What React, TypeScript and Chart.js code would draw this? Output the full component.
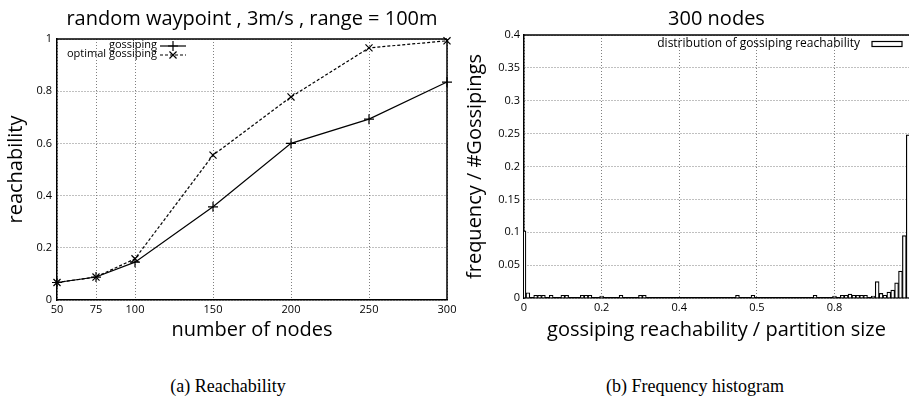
import React, { useEffect, useRef } from 'react';
import { Chart, registerables } from 'chart.js';
import { drawPoint } from 'chart.js/helpers';

Chart.register(...registerables);

// ---- data: reachability vs number of nodes ----
const nodeCounts = [50, 75, 100, 150, 200, 250, 300];
const gossipingReach = [0.067, 0.088, 0.145, 0.357, 0.6, 0.693, 0.835];
const optimalReach = [0.067, 0.088, 0.158, 0.555, 0.778, 0.966, 0.993];
const nodeTicks = [50, 75, 100, 150, 200, 250, 300];

// ---- data: histogram (300 nodes) ----
const binCenters = [0, 0.01, 0.03, 0.04, 0.05, 0.07, 0.1, 0.11, 0.15, 0.16, 0.17, 0.2, 0.25, 0.3, 0.31, 0.55, 0.59, 0.75, 0.8, 0.82, 0.83, 0.84, 0.85, 0.86, 0.87, 0.88, 0.9, 0.91, 0.92, 0.93, 0.94, 0.95, 0.96, 0.97, 0.98, 0.99];
const binFreq = [0.102, 0.008, 0.004, 0.004, 0.004, 0.004, 0.004, 0.004, 0.004, 0.004, 0.004, 0.003, 0.004, 0.004, 0.004, 0.004, 0.004, 0.004, 0.003, 0.004, 0.004, 0.006, 0.004, 0.004, 0.004, 0.004, 0.003, 0.025, 0.007, 0.004, 0.009, 0.012, 0.023, 0.041, 0.095, 0.248];
const histTickValues = [0, 0.2, 0.4, 0.6, 0.8];
const histTickLabels = ['0', '0.2', '0.4', '0.5', '0.8'];

const FONT = "'Open Sans', 'DejaVu Sans', sans-serif";
const fmt = (v: number) => String(Number(Number(v).toFixed(3)));

const framePlugin = {
  id: 'frame',
  afterDatasetsDraw(chart: any, _a: any, opts: any) {
    const { ctx, chartArea: a } = chart;
    ctx.save();
    ctx.strokeStyle = '#000';
    ctx.lineWidth = 1.5;
    ctx.beginPath();
    if (opts.top) { ctx.moveTo(a.left, a.top); ctx.lineTo(a.right, a.top); }
    if (opts.right) { ctx.moveTo(a.right, a.top); ctx.lineTo(a.right, a.bottom); }
    ctx.stroke();
    ctx.restore();
  },
};

const keyPlugin = {
  id: 'keyLegend',
  afterDraw(chart: any, _a: any, opts: any) {
    const ctx = chart.ctx;
    ctx.save();
    ctx.font = opts.font;
    ctx.fillStyle = '#000';
    ctx.strokeStyle = '#000';
    ctx.textAlign = 'right';
    ctx.textBaseline = 'middle';
    chart.data.datasets.forEach((ds: any, i: number) => {
      const y = opts.y + i * (opts.rowHeight || 0);
      ctx.fillText(ds.label, opts.textRight, y);
      const x0 = opts.textRight + opts.gap;
      const x1 = x0 + opts.sampleWidth;
      ctx.lineWidth = ds.borderWidth || 1;
      if (opts.kind === 'box') {
        ctx.strokeRect(x0, y - opts.boxHeight / 2, opts.sampleWidth, opts.boxHeight);
      } else {
        ctx.setLineDash(ds.borderDash || []);
        ctx.beginPath();
        ctx.moveTo(x0, y + 1);
        ctx.lineTo(x1, y + 1);
        ctx.stroke();
        ctx.setLineDash([]);
        drawPoint(ctx, { pointStyle: ds.pointStyle, radius: ds.pointRadius, borderWidth: ds.pointBorderWidth, rotation: 0 } as any, (x0 + x1) / 2, y + 1);
      }
    });
    ctx.restore();
  },
};

const tickFont = { family: FONT, size: 11 };
const titleFont = { family: FONT, size: 20, weight: 'normal' as const };
const gridOpts = { color: '#808080', lineWidth: 1, drawTicks: false };
const borderOpts = { display: true, color: '#000', width: 1.5, dash: [1, 2] };

export default function App() {
  const leftRef = useRef<HTMLCanvasElement>(null);
  const rightRef = useRef<HTMLCanvasElement>(null);

  useEffect(() => {
    const c1 = new Chart(leftRef.current!, {
      type: 'line',
      data: {
        datasets: [
          {
            label: 'gossiping',
            data: nodeCounts.map((x, i) => ({ x, y: gossipingReach[i] })),
            borderColor: '#000',
            backgroundColor: '#000',
            borderWidth: 1.2,
            pointStyle: 'cross',
            pointRadius: 5,
            pointBorderWidth: 1.2,
            pointBorderColor: '#000',
            fill: false,
            clip: false as any,
          },
          {
            label: 'optimal gossiping',
            data: nodeCounts.map((x, i) => ({ x, y: optimalReach[i] })),
            borderColor: '#000',
            backgroundColor: '#000',
            borderWidth: 1.2,
            borderDash: [3, 2],
            pointStyle: 'crossRot',
            pointRadius: 5,
            pointBorderWidth: 1.2,
            pointBorderColor: '#000',
            fill: false,
            clip: false as any,
          },
        ],
      },
      options: {
        responsive: false,
        animation: false,
        devicePixelRatio: 1,
        layout: { padding: { left: 0, right: 13, top: 0, bottom: 0 } },
        plugins: {
          legend: { display: false },
          tooltip: { enabled: false },
          title: {
            display: true,
            text: 'random waypoint , 3m/s , range = 100m',
            fullSize: false,
            color: '#000',
            font: titleFont,
            padding: { top: 7, bottom: 8 },
          },
          frame: { top: true, right: true },
          keyLegend: { font: `11px ${FONT}`, textRight: 157, y: 45, rowHeight: 9, gap: 3, sampleWidth: 26 },
        } as any,
        scales: {
          x: {
            type: 'linear',
            min: 50,
            max: 300,
            afterBuildTicks: (s: any) => { s.ticks = nodeTicks.map((v) => ({ value: v })); },
            afterFit: (s: any) => { s.height = 45; },
            ticks: { font: tickFont, color: '#000', padding: 3, maxRotation: 0, autoSkip: false, callback: (v: any) => fmt(v) },
            grid: gridOpts,
            border: borderOpts,
            title: { display: true, text: 'number of nodes', color: '#000', font: titleFont, padding: { top: 0, bottom: 3 } },
          },
          y: {
            min: 0,
            max: 1,
            afterFit: (s: any) => { s.width = 57; },
            ticks: { stepSize: 0.2, font: tickFont, color: '#000', padding: 5, callback: (v: any) => fmt(v) },
            grid: gridOpts,
            border: borderOpts,
            title: { display: true, text: 'reachability', color: '#000', font: titleFont, padding: { top: 4, bottom: 0 } },
          },
        } as any,
      },
      plugins: [framePlugin, keyPlugin],
    });

    const c2 = new Chart(rightRef.current!, {
      type: 'bar',
      data: {
        datasets: [
          {
            label: 'distribution of gossiping reachability',
            data: binCenters.map((x, i) => ({ x, y: binFreq[i] })),
            backgroundColor: '#fff',
            borderColor: '#000',
            borderWidth: 1.2,
            barPercentage: 1,
            categoryPercentage: 1,
            clip: 0 as any,
          },
        ],
      },
      options: {
        responsive: false,
        animation: false,
        devicePixelRatio: 1,
        layout: { padding: { left: 0, right: 0, top: 0, bottom: 0 } },
        plugins: {
          legend: { display: false },
          tooltip: { enabled: false },
          title: {
            display: true,
            text: '300 nodes',
            fullSize: false,
            color: '#000',
            font: titleFont,
            padding: { top: 7, bottom: 4 },
          },
          frame: { top: true, right: false },
          keyLegend: { kind: 'box', font: `12px ${FONT}`, textRight: 400, y: 44, gap: 12, sampleWidth: 30, boxHeight: 5 },
        } as any,
        scales: {
          x: {
            type: 'linear',
            min: 0,
            max: 0.992,
            offset: false,
            afterBuildTicks: (s: any) => { s.ticks = histTickValues.map((v) => ({ value: v })); },
            afterFit: (s: any) => { s.height = 47; },
            ticks: { font: tickFont, color: '#000', padding: 3, maxRotation: 0, autoSkip: false, callback: (_v: any, i: number) => histTickLabels[i] },
            grid: { ...gridOpts, offset: false },
            border: borderOpts,
            title: { display: true, text: 'gossiping reachability / partition size', color: '#000', font: titleFont, padding: { top: 0, bottom: 3 } },
          },
          y: {
            min: 0,
            max: 0.4,
            afterFit: (s: any) => { s.width = 64; },
            ticks: { stepSize: 0.05, font: tickFont, color: '#000', padding: 4, callback: (v: any) => fmt(v) },
            grid: gridOpts,
            border: borderOpts,
            title: { display: true, text: 'frequency / #Gossipings', color: '#000', font: titleFont, padding: { top: 3, bottom: 0 } },
          },
        } as any,
      },
      plugins: [framePlugin, keyPlugin],
    });

    return () => {
      c1.destroy();
      c2.destroy();
    };
  }, []);

  const caption = (center: number): React.CSSProperties => ({
    position: 'absolute',
    left: center - 200,
    top: 374,
    width: 400,
    textAlign: 'center',
    fontFamily: "'Liberation Serif', 'DejaVu Serif', serif",
    fontSize: 18,
    lineHeight: '24px',
    color: '#000',
  });

  return (
    <div style={{ position: 'absolute', left: 0, top: 0, width: 909, height: 410, background: '#fff', overflow: 'hidden' }}>
      <canvas ref={leftRef} width={460} height={345} style={{ position: 'absolute', left: 0, top: 0 }} />
      <canvas ref={rightRef} width={449} height={345} style={{ position: 'absolute', left: 460, top: 0 }} />
      <div style={caption(228)}>(a) Reachability</div>
      <div style={caption(695)}>(b) Frequency histogram</div>
    </div>
  );
}
